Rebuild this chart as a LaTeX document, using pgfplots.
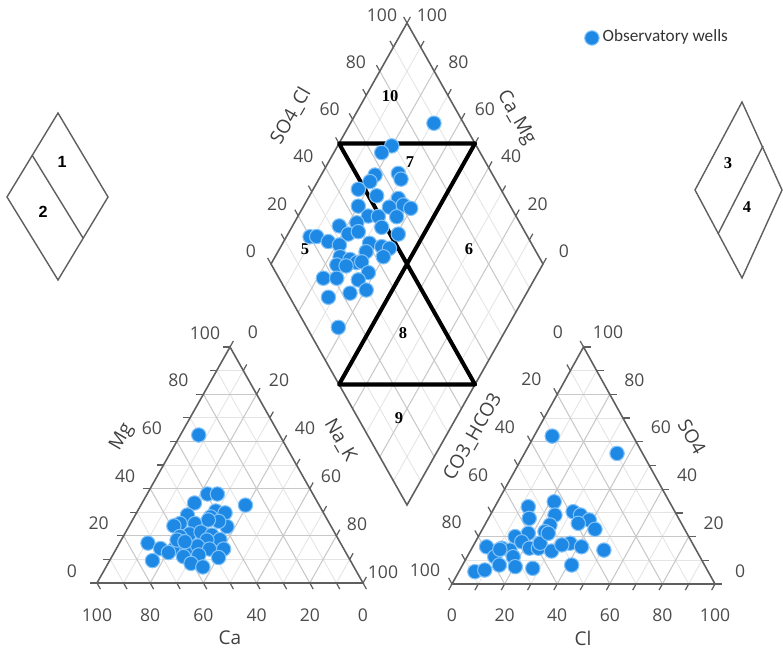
\documentclass[border=0pt]{standalone}
\usepackage{fontspec}
\setmainfont{Open Sans}
\newfontfamily\carlito{Carlito}
\newfontfamily\lserif{Liberation Serif}
\newfontfamily\lsans{Liberation Sans}
\usepackage{pgfplots}
\usepackage{pgfplotstable}
\pgfplotsset{compat=1.18}
\definecolor{pblue}{RGB}{30,136,229}
\definecolor{pedge}{RGB}{130,195,250}
\definecolor{frm}{RGB}{95,95,95}
\definecolor{tkc}{RGB}{75,75,75}
\definecolor{gmaj}{RGB}{200,200,200}
\definecolor{gmin}{RGB}{228,228,228}
\tikzset{
  tl/.style={font=\fontsize{5.0}{6}\selectfont, text=tkc, inner sep=0pt},
  ttl/.style={font=\fontsize{5.4}{6}\selectfont, text=black!75, inner sep=0pt},
  rn/.style={font=\lserif\bfseries\fontsize{4.7}{5}\selectfont, inner sep=0pt},
}
\pgfplotsset{
  pts/.style={only marks, mark=*, mark size=2.05pt,
    mark options={fill=pblue, draw=pedge, line width=0.3pt}},
}

% cation triangle: Na+K and Mg (%), Ca = 100 - Na - Mg
\pgfplotstableread{
na mg
22.7 37.7
26.4 37.7
19.7 33.9
39.3 33.0
29.4 30.5
33.3 29.7
19.6 28.8
28.7 28.0
18.6 25.2
24.2 25.2
16.8 24.2
36.9 23.9
32.7 26.1
24.4 20.8
28.3 21.6
21.3 19.7
33.0 20.3
37.0 18.4
32.2 18.2
10.7 16.9
16.6 14.6
21.9 14.8
26.7 14.2
30.0 15.7
35.1 14.4
40.4 14.4
32.3 11.9
26.9 11.2
40.3 10.8
16.1 9.5
31.2 8.3
36.4 6.8
20.4 12.9
21.0 18.2
6.9 62.7
28.5 26.7
24.3 17.5
}\cation

% anion triangle: Cl and SO4 (%), CO3+HCO3 = 100 - Cl - SO4
\pgfplotstableread{
cl so4
6.9 62.4
35.2 55.1
12.7 32.6
21.5 34.7
30.8 30.5
34.3 29.1
15.5 27.7
24.6 29.1
38.7 27.0
35.2 25.6
42.8 23.1
24.8 24.9
24.3 22.1
18.3 21.4
14.0 20.0
17.6 17.8
21.9 15.1
5.3 15.7
11.4 15.1
14.9 14.3
25.3 15.1
30.9 13.9
36.3 17.2
41.4 15.7
33.5 16.5
50.6 14.3
10.5 11.5
17.5 11.5
14.0 8.0
20.4 7.3
27.4 6.6
41.5 8.0
6.1 5.2
9.5 5.9
24.9 17.2
10.9 14.6
25.9 21.4
}\anion

% diamond: Na+K (%) and SO4+Cl (%)
\pgfplotstableread{
na s
30.7 89.1
19.9 68.9
17.6 63.8
19.8 56.7
28.0 65.6
30.2 65.4
19.3 53.5
16.6 47.6
24.7 53.0
33.2 60.4
36.4 60.9
39.8 62.9
31.7 55.3
20.1 44.1
25.8 45.7
29.6 49.3
36.4 56.0
23.0 40.1
17.2 33.0
33.1 48.3
22.2 34.6
25.4 38.8
40.6 53.0
8.7 20.0
11.1 22.5
16.4 25.7
21.2 29.1
31.9 40.5
32.4 37.5
37.1 44.3
40.3 46.8
39.8 42.8
23.9 26.9
28.1 30.0
31.2 31.8
24.4 24.0
28.0 27.2
32.9 33.8
37.6 34.0
22.2 16.3
27.1 21.2
35.4 28.8
35.1 23.0
40.4 29.6
28.0 14.2
37.9 11.6
}\diamondtab

\begin{document}
\begin{tikzpicture}
\begin{axis}[
  at={(0,0)}, anchor=south west,
  scale only axis, width=7.83cm, height=6.47cm,
  xmin=0, xmax=783, ymin=0, ymax=647,
  axis lines=none, clip=false,
  legend style={at={(axis cs:584,609)}, anchor=west, draw=none, fill=none,
    inner sep=0pt, font=\carlito\fontsize{4.9}{5.5}\selectfont, text=black!80,
    nodes={inner sep=1pt}},
  legend image code/.code={\draw[#1] plot coordinates {(0.09cm,0cm)};},
  legend cell align=left,
]
% ---------- grids ----------
\pgfplotsinvokeforeach{10,30,50,70,90}{
  \draw[gmin, line width=0.25pt] (axis cs:{97+1.33*#1},{64+2.36*#1}) -- (axis cs:{363-1.33*#1},{64+2.36*#1});
  \draw[gmin, line width=0.25pt] (axis cs:{97+2.66*#1},64) -- (axis cs:{230+1.33*#1},{300-2.36*#1});
  \draw[gmin, line width=0.25pt] (axis cs:{363-2.66*#1},64) -- (axis cs:{230-1.33*#1},{300-2.36*#1});
  \draw[gmin, line width=0.25pt] (axis cs:{452+1.315*#1},{63+2.37*#1}) -- (axis cs:{715-1.315*#1},{63+2.37*#1});
  \draw[gmin, line width=0.25pt] (axis cs:{452+2.63*#1},63) -- (axis cs:{583.5+1.315*#1},{300-2.37*#1});
  \draw[gmin, line width=0.25pt] (axis cs:{715-2.63*#1},63) -- (axis cs:{583.5-1.315*#1},{300-2.37*#1});
  \draw[gmin, line width=0.25pt] (axis cs:{271+1.36*#1},{383+2.41*#1}) -- (axis cs:{407+1.36*#1},{142+2.41*#1});
  \draw[gmin, line width=0.25pt] (axis cs:{271+1.36*#1},{383-2.41*#1}) -- (axis cs:{407+1.36*#1},{624-2.41*#1});
}
\pgfplotsinvokeforeach{20,40,60,80}{
  \draw[gmaj, line width=0.3pt] (axis cs:{97+1.33*#1},{64+2.36*#1}) -- (axis cs:{363-1.33*#1},{64+2.36*#1});
  \draw[gmaj, line width=0.3pt] (axis cs:{97+2.66*#1},64) -- (axis cs:{230+1.33*#1},{300-2.36*#1});
  \draw[gmaj, line width=0.3pt] (axis cs:{363-2.66*#1},64) -- (axis cs:{230-1.33*#1},{300-2.36*#1});
  \draw[gmaj, line width=0.3pt] (axis cs:{452+1.315*#1},{63+2.37*#1}) -- (axis cs:{715-1.315*#1},{63+2.37*#1});
  \draw[gmaj, line width=0.3pt] (axis cs:{452+2.63*#1},63) -- (axis cs:{583.5+1.315*#1},{300-2.37*#1});
  \draw[gmaj, line width=0.3pt] (axis cs:{715-2.63*#1},63) -- (axis cs:{583.5-1.315*#1},{300-2.37*#1});
  \draw[gmaj, line width=0.3pt] (axis cs:{271+1.36*#1},{383+2.41*#1}) -- (axis cs:{407+1.36*#1},{142+2.41*#1});
  \draw[gmaj, line width=0.3pt] (axis cs:{271+1.36*#1},{383-2.41*#1}) -- (axis cs:{407+1.36*#1},{624-2.41*#1});
}
% ---------- frames ----------
\draw[frm, line width=0.45pt] (axis cs:97,64) -- (axis cs:363,64) -- (axis cs:230,300) -- cycle;
\draw[frm, line width=0.45pt] (axis cs:452,63) -- (axis cs:715,63) -- (axis cs:583.5,300) -- cycle;
\draw[frm, line width=0.45pt] (axis cs:271,383) -- (axis cs:407,624) -- (axis cs:543,383) -- (axis cs:407,142) -- cycle;
% ---------- ticks ----------
\pgfplotsinvokeforeach{0,10,...,100}{
  \draw[frm, line width=0.35pt] (axis cs:{97+1.33*#1},{64+2.36*#1}) -- ++(axis direction cs:-7,0);
  \draw[frm, line width=0.35pt] (axis cs:{230+1.33*#1},{300-2.36*#1}) -- ++(axis direction cs:3.4,6.1);
  \draw[frm, line width=0.35pt] (axis cs:{363-2.66*#1},64) -- ++(axis direction cs:3.4,-6.1);
  \draw[frm, line width=0.35pt] (axis cs:{715-1.315*#1},{63+2.37*#1}) -- ++(axis direction cs:7,0);
  \draw[frm, line width=0.35pt] (axis cs:{452+2.63*#1},63) -- ++(axis direction cs:-3.4,-6.1);
  \draw[frm, line width=0.35pt] (axis cs:{583.5-1.315*#1},{300-2.37*#1}) -- ++(axis direction cs:-3.4,6.1);
  \draw[frm, line width=0.35pt] (axis cs:{271+1.36*#1},{383+2.41*#1}) -- ++(axis direction cs:-3.4,6.1);
  \draw[frm, line width=0.35pt] (axis cs:{407+1.36*#1},{624-2.41*#1}) -- ++(axis direction cs:3.4,6.1);
}
% ---------- tick labels ----------
\pgfplotsinvokeforeach{0,20,40,60,80,100}{
  \node[tl] at (axis cs:{363-2.66*#1},32) {#1};
  \node[tl] at (axis cs:{72+1.33*#1},{76+2.38*#1}) {#1};
  \node[tl] at (axis cs:{253+1.3*#1},{315-2.4*#1}) {#1};
  \node[tl] at (axis cs:{452+2.63*#1},32) {#1};
  \node[tl] at (axis cs:{740-1.32*#1},{76+2.39*#1}) {#1};
  \node[tl] at (axis cs:{558-1.33*#1},{315-2.38*#1}) {#1};
  \node[tl] at (axis cs:{251+1.31*#1},{396+2.36*#1}) {#1};
  \node[tl] at (axis cs:{564-1.32*#1},{396+2.36*#1}) {#1};
}
% ---------- axis titles ----------
\node[ttl] at (axis cs:230,9) {Ca};
\node[ttl] at (axis cs:583,9) {Cl};
\node[ttl, rotate=60] at (axis cs:122,210) {Mg};
\node[ttl, rotate=-60] at (axis cs:340,207) {Na\_K};
\node[ttl, rotate=60] at (axis cs:473,210) {CO3\_HCO3};
\node[ttl, rotate=-60] at (axis cs:692,210) {SO4};
\node[ttl, rotate=60] at (axis cs:291,531) {SO4\_Cl};
\node[ttl, rotate=-60] at (axis cs:516,529) {Ca\_Mg};
% ---------- Piper subdivision lines ----------
\draw[black, line width=1.15pt, line join=round] (axis cs:339,503.5) -- (axis cs:475,503.5) -- (axis cs:339,262.5) -- (axis cs:475,262.5) -- cycle;
% ---------- region numbers ----------
\node[rn] at (axis cs:390,551) {10};
\node[rn] at (axis cs:410,485) {7};
\node[rn] at (axis cs:305,398) {5};
\node[rn] at (axis cs:469,398) {6};
\node[rn] at (axis cs:403,314) {8};
\node[rn] at (axis cs:399,229) {9};
% ---------- key diamonds ----------
\draw[frm, line width=0.4pt] (axis cs:58,534) -- (axis cs:108,450) -- (axis cs:58,367) -- (axis cs:7,450) -- cycle;
\draw[frm, line width=0.4pt] (axis cs:32,492) -- (axis cs:83,409);
\node[font=\lsans\bfseries\fontsize{4.6}{5}\selectfont, inner sep=0pt] at (axis cs:62,485) {1};
\node[font=\lsans\bfseries\fontsize{4.6}{5}\selectfont, inner sep=0pt] at (axis cs:43,435) {2};
\draw[frm, line width=0.4pt] (axis cs:742,545) -- (axis cs:782,457) -- (axis cs:742,369) -- (axis cs:695,457) -- cycle;
\draw[frm, line width=0.4pt] (axis cs:763,501) -- (axis cs:718,413);
\node[rn] at (axis cs:728,484) {3};
\node[rn] at (axis cs:747,440) {4};
% ---------- data ----------
\addplot[pts] table[x expr={97+2.66*(\thisrow{na}+0.5*\thisrow{mg})}, y expr={64+2.36*\thisrow{mg}}] {\cation};
\addlegendentry{Observatory wells}
\addplot[pts, forget plot] table[x expr={452+2.63*(\thisrow{cl}+0.5*\thisrow{so4})}, y expr={63+2.37*\thisrow{so4}}] {\anion};
\addplot[pts, forget plot] table[x expr={271+1.36*(\thisrow{na}+\thisrow{s})}, y expr={383+2.41*(\thisrow{s}-\thisrow{na})}] {\diamondtab};
\end{axis}
\pgfresetboundingbox
\path[use as bounding box] (0,0) rectangle (7.83cm,6.47cm);
\end{tikzpicture}
\end{document}
